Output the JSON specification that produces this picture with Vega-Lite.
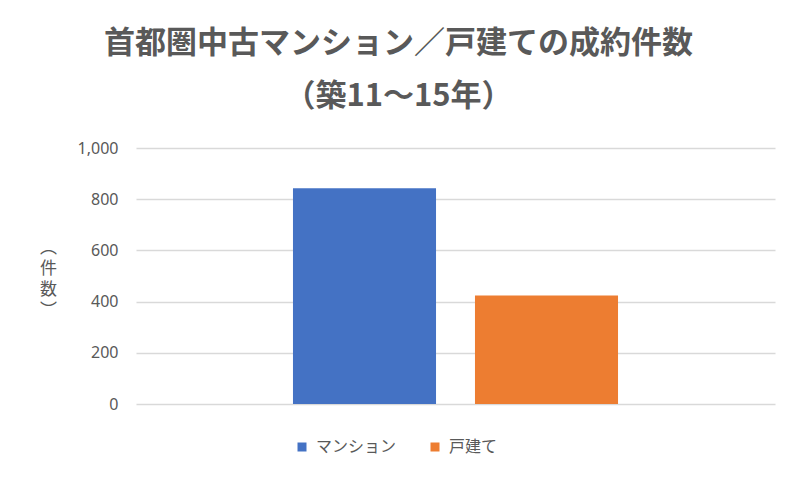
{
  "$schema": "https://vega.github.io/schema/vega-lite/v6.json",
  "width": 639,
  "height": 256,
  "autosize": {"type": "none"},
  "padding": {"left": 136, "top": 148, "right": 25, "bottom": 76},
  "background": "white",
  "title": {
    "text": ["首都圏中古マンション／戸建ての成約件数", "（築11～15年）"],
    "anchor": "middle",
    "dx": -57,
    "offset": 27,
    "font": "Noto Sans CJK JP",
    "fontSize": 31,
    "fontWeight": "bold",
    "lineHeight": 53,
    "color": "#595959"
  },
  "data": {
    "values": [
      {"種類": "マンション", "件数": 843},
      {"種類": "戸建て", "件数": 424}
    ]
  },
  "mark": {"type": "bar"},
  "encoding": {
    "x": {
      "field": "種類",
      "type": "nominal",
      "sort": null,
      "axis": null,
      "scale": {"paddingInner": 0.214, "paddingOuter": 0.8625}
    },
    "y": {
      "field": "件数",
      "type": "quantitative",
      "scale": {"domain": [0, 1000]},
      "axis": {
        "values": [0, 200, 400, 600, 800, 1000],
        "format": ",d",
        "domain": false,
        "ticks": false,
        "grid": true,
        "gridColor": "#d9d9d9",
        "gridWidth": 1.3,
        "labelFont": "Noto Sans",
        "labelFontSize": 16,
        "labelColor": "#595959",
        "labelPadding": 18,
        "title": ["︵", "件", "数", "︶"],
        "titleAngle": 0,
        "titleAlign": "center",
        "titleBaseline": "middle",
        "titleX": -88,
        "titleY": 99,
        "titleFont": "Noto Sans CJK JP",
        "titleFontSize": 17,
        "titleFontWeight": "normal",
        "titleLineHeight": 21,
        "titleColor": "#595959"
      }
    },
    "color": {
      "field": "種類",
      "type": "nominal",
      "sort": null,
      "scale": {"domain": ["マンション", "戸建て"], "range": ["#4472C4", "#ED7D31"]},
      "legend": {
        "title": null,
        "orient": "none",
        "direction": "horizontal",
        "legendX": 158,
        "legendY": 291,
        "symbolType": "square",
        "symbolSize": 81,
        "symbolStrokeWidth": 0,
        "symbolOpacity": 1,
        "labelFont": "Noto Sans CJK JP",
        "labelFontSize": 16,
        "labelColor": "#595959",
        "labelOffset": 6,
        "columnPadding": 30
      }
    }
  },
  "config": {"view": {"stroke": null}}
}
